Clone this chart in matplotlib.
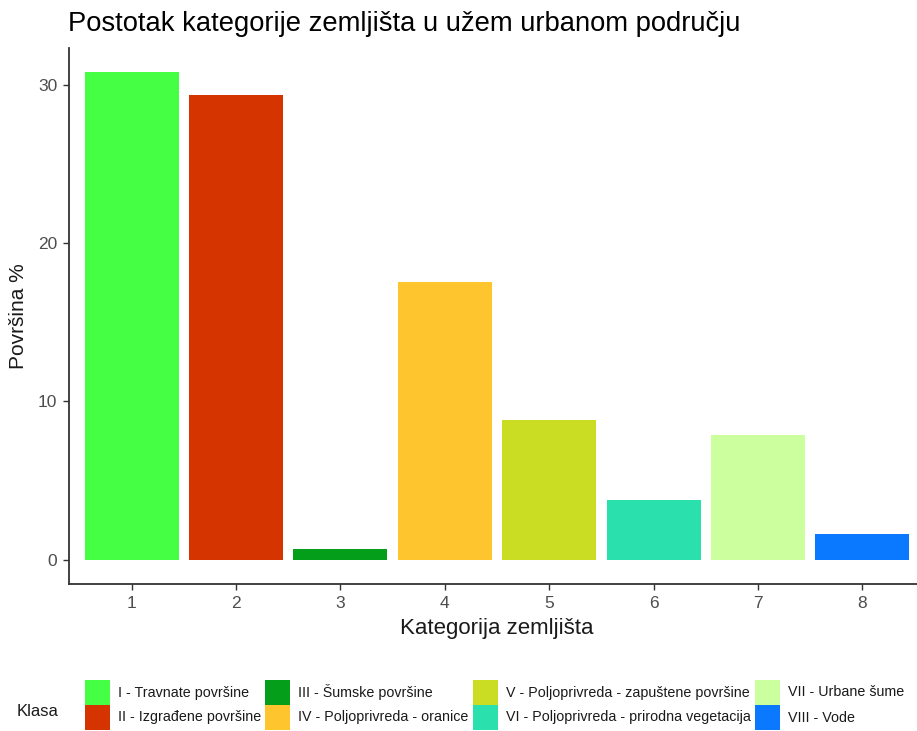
import matplotlib
matplotlib.use("Agg")
import matplotlib.pyplot as plt
from matplotlib.patches import Rectangle

plt.rcParams['font.family'] = ['Liberation Sans', 'DejaVu Sans']

categories = [1, 2, 3, 4, 5, 6, 7, 8]
values = [30.8, 29.35, 0.7, 17.55, 8.85, 3.75, 7.85, 1.6]
colors = ['#45FF45', '#D53300', '#049E1B', '#FFC52F',
          '#CADD22', '#2AE0AC', '#CCFF9E', '#0A78FF']
class_labels = [
    'I - Travnate površine',
    'II - Izgrađene površine',
    'III - Šumske površine',
    'IV - Poljoprivreda - oranice',
    'V - Poljoprivreda - zapuštene površine',
    'VI - Poljoprivreda - prirodna vegetacija',
    'VII - Urbane šume',
    'VIII - Vode',
]
y_ticks = [0, 10, 20, 30]

W, H = 917, 731
fig = plt.figure(figsize=(W / 100, H / 100), dpi=100)

# axes box in pixel terms (right edge runs past the canvas)
left, right, top, bottom = 69, 925, 48, 584
ax = fig.add_axes([left / W, 1 - bottom / H, (right - left) / W, (bottom - top) / H])

ax.bar(categories, values, width=0.9, color=colors, edgecolor='none')

ax.set_xlim(0.4, 8.6)
ax.set_ylim(-1.54, 32.34)
ax.set_xticks(categories)
ax.set_yticks(y_ticks)

dark = '#333333'
for side in ('top', 'right'):
    ax.spines[side].set_visible(False)
for side in ('left', 'bottom'):
    ax.spines[side].set_color(dark)
    ax.spines[side].set_linewidth(1.3)
ax.tick_params(axis='both', colors=dark, length=4.5, width=1.0,
               labelsize=12.5, labelcolor='#4D4D4D', pad=4)

ax.set_xlabel('Kategorija zemljišta', fontsize=16, color='#1A1A1A', labelpad=5)
ax.set_ylabel('Površina %', fontsize=15, color='#1A1A1A', labelpad=7)

fig.text(68 / W, 1 - 31 / H, 'Postotak kategorije zemljišta u užem urbanom području',
         fontsize=19.7, color='#000000', ha='left', va='baseline')

# legend: two rows, four columns, filled column by column
col_x = [85, 265, 473, 755]
row_top = 680
key_w, key_h = 25, 25
text_off = 33
for i, (lab, col) in enumerate(zip(class_labels, colors)):
    c, r = divmod(i, 2)
    x0 = col_x[c]
    y0 = row_top + r * key_h
    fig.add_artist(Rectangle((x0 / W, 1 - (y0 + key_h) / H), key_w / W, key_h / H,
                             transform=fig.transFigure, facecolor=col,
                             edgecolor='none'))
    fig.text((x0 + text_off) / W, 1 - (y0 + key_h / 2) / H, lab,
             fontsize=10.3, color='#1A1A1A', ha='left', va='center')

fig.text(17 / W, 1 - 711 / H, 'Klasa', fontsize=12, color='#1A1A1A',
         ha='left', va='center')

fig.savefig('out.png', dpi=100, facecolor='white')
